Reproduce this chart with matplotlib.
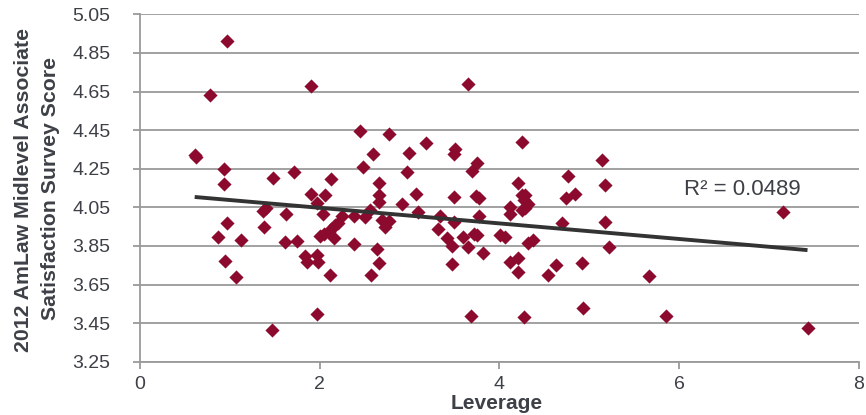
import numpy as np
import matplotlib
matplotlib.use("Agg")
import matplotlib.pyplot as plt

plt.rcParams['font.family'] = ['Liberation Sans', 'DejaVu Sans']

leverage = [0.61, 0.63, 0.78, 0.97, 0.94, 0.94, 0.97, 0.87, 1.12, 0.95,
            1.07, 1.37, 1.40, 1.38, 1.47, 1.485, 1.63, 1.615, 1.72, 1.75,
            1.84, 1.86, 1.90, 1.90, 1.97, 1.97, 1.985, 1.97, 2.06, 2.04,
            2.00, 2.05, 2.10, 2.13, 2.17, 2.16, 2.13, 2.12, 2.21, 2.245,
            2.383, 2.383, 2.45, 2.48, 2.505, 2.56, 2.59, 2.57, 2.635, 2.665,
            2.665, 2.665, 2.665, 2.69, 2.77, 2.73, 2.77, 2.914, 2.97, 3.00,
            3.073, 3.10, 3.184, 3.314, 3.34, 3.414, 3.47, 3.47, 3.496, 3.50,
            3.507, 3.496, 3.60, 3.655, 3.65, 3.685, 3.70, 3.718, 3.748, 3.75,
            3.737, 3.774, 3.774, 3.82, 4.008, 4.06, 4.12, 4.12, 4.12, 4.205,
            4.205, 4.205, 4.25, 4.25, 4.286, 4.27, 4.32, 4.25, 4.286, 4.28,
            4.32, 4.37, 4.54, 4.63, 4.70, 4.74, 4.84, 4.77, 4.92, 4.935,
            5.14, 5.18, 5.18, 5.225, 5.67, 5.855, 7.155, 7.43]
score = [4.32, 4.31, 4.63, 4.91, 4.25, 4.17, 3.97, 3.895, 3.88, 3.773,
         3.69, 4.03, 4.045, 3.95, 3.414, 4.20, 4.015, 3.87, 4.233, 3.875,
         3.80, 3.765, 4.68, 4.118, 4.07, 3.805, 3.765, 3.496, 4.115, 4.014,
         3.90, 3.912, 3.92, 3.936, 3.958, 3.89, 4.198, 3.70, 3.967, 4.005,
         4.005, 3.86, 4.447, 4.26, 4.00, 4.036, 4.326, 3.70, 3.834, 3.76,
         4.174, 4.114, 4.079, 3.985, 3.98, 3.946, 4.43, 4.066, 4.234, 4.33,
         4.119, 4.027, 4.382, 3.938, 4.005, 3.89, 3.85, 3.755, 3.972, 4.105,
         4.35, 4.326, 3.898, 3.846, 4.69, 3.488, 4.24, 3.912, 3.906, 4.278,
         4.11, 4.097, 4.005, 3.812, 3.906, 3.895, 4.05, 4.015, 3.768, 3.789,
         3.716, 4.174, 4.387, 4.114, 4.114, 4.088, 4.066, 4.036, 4.048, 3.483,
         3.863, 3.88, 3.70, 3.75, 3.97, 4.097, 4.117, 4.214, 3.76, 3.53,
         4.295, 4.166, 3.975, 3.846, 3.696, 3.488, 4.027, 3.426]

y_ticks = [3.25, 3.45, 3.65, 3.85, 4.05, 4.25, 4.45, 4.65, 4.85, 5.05]
x_ticks = [0, 2, 4, 6, 8]
r2_label = "R² = 0.0489"

text_col = '#3d4046'
grid_col = '#9a9a9a'

fig = plt.figure(figsize=(8.66, 4.15), dpi=100)
ax = fig.add_axes([0.1615, 0.1284, 0.9916 - 0.1615, 0.9655 - 0.1284])

ax.set_xlim(0, 8)
ax.set_ylim(3.25, 5.05)
ax.set_yticks(y_ticks)
ax.set_yticklabels([f"{v:.2f}" for v in y_ticks])
ax.set_xticks(x_ticks)
ax.set_xticklabels([str(v) for v in x_ticks])

ax.yaxis.grid(True, color=grid_col, linewidth=1.3)
ax.set_axisbelow(True)
for s in ['top', 'right']:
    ax.spines[s].set_visible(False)
for s in ['left', 'bottom']:
    ax.spines[s].set_color(grid_col)
    ax.spines[s].set_linewidth(1.3)
ax.tick_params(axis='both', colors=grid_col, length=5, width=1.3,
               labelsize=14, labelcolor=text_col)
ax.tick_params(axis='x', pad=5)
ax.tick_params(axis='y', pad=16)

x = np.array(leverage)
y = np.array(score)
ax.scatter(x, y, marker='D', s=52, color='#8c0a2e', linewidths=0, zorder=3)

slope, intercept = np.polyfit(x, y, 1)
xl = np.array([x.min(), x.max()])
ax.plot(xl, slope * xl + intercept, color='#333333', linewidth=2.8, zorder=4,
        solid_capstyle='butt')

ax.text(6.71, 4.14, r2_label, fontsize=16, color=text_col,
        ha='center', va='center')

ax.set_xlabel("Leverage", fontsize=15, fontweight='bold', color=text_col)
ax.xaxis.set_label_coords(0.497, -0.093)
ax.xaxis.label.set_va('top')

fig.text(0.0266, 0.543, "2012 AmLaw Midlevel Associate", rotation=90,
         fontsize=15.3, fontweight='bold', color=text_col, ha='center', va='center')
fig.text(0.0585, 0.545, "Satisfaction Survey Score", rotation=90,
         fontsize=15.3, fontweight='bold', color=text_col, ha='center', va='center')

fig.savefig("out.png", dpi=100)
